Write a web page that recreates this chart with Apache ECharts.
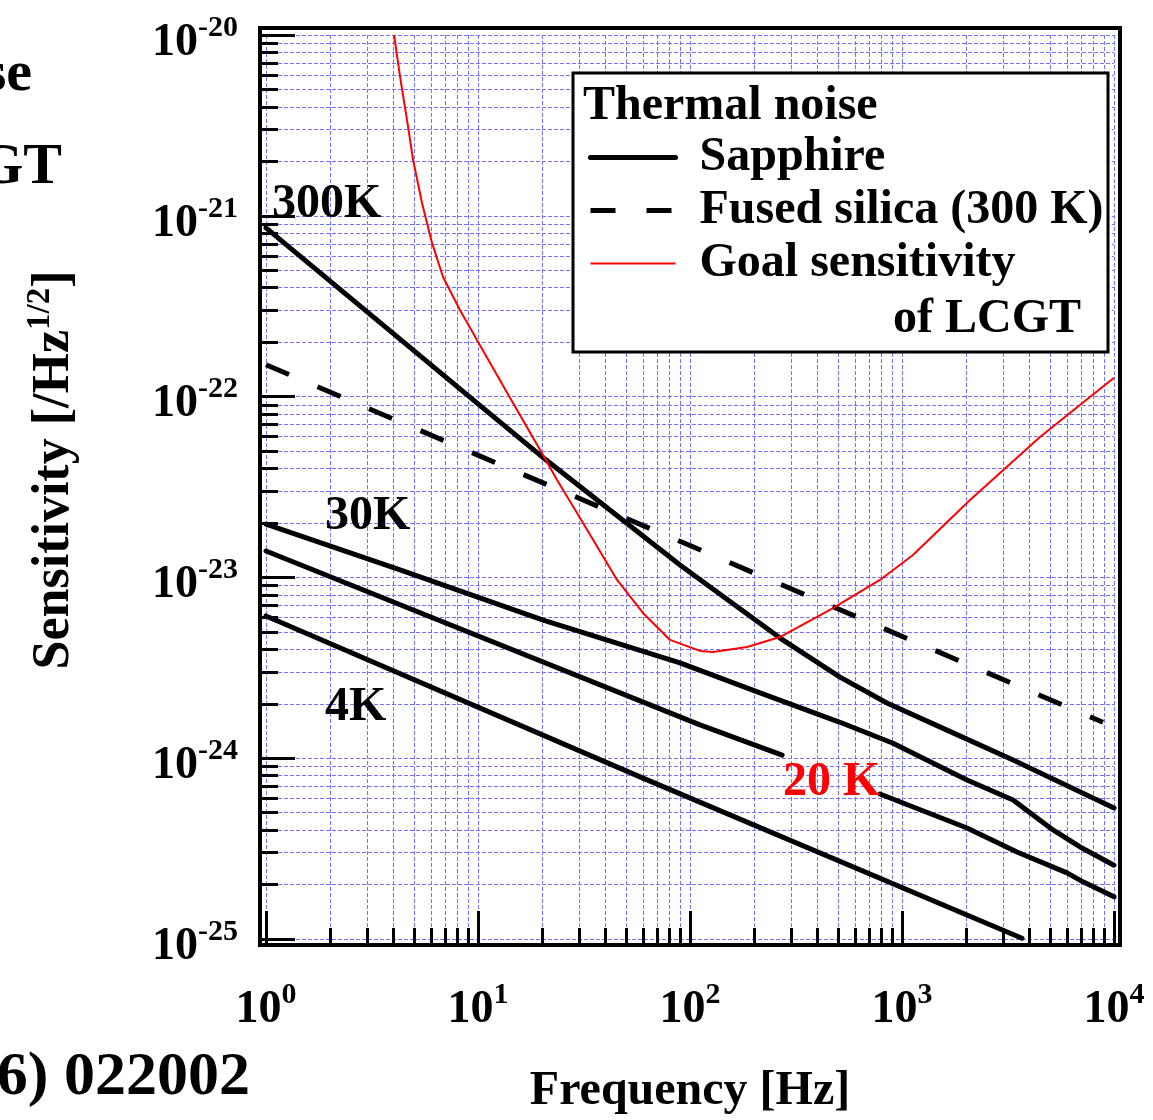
<!DOCTYPE html>
<html><head><meta charset="utf-8">
<script src="https://cdn.jsdelivr.net/npm/echarts@6/dist/echarts.min.js"></script>
<style>html,body{margin:0;padding:0;background:#fff}#c{width:1153px;height:1120px}</style>
</head><body><div id="c"></div>
<script>
// ---------- data (frequency [Hz], sensitivity [/Hz^1/2]) ----------
const sapphire300K = [[1,8.57e-22],[10,9.12e-23],[20.9,4.47e-23],[89.7,1.17e-23],[266,4.62e-24],[510,2.81e-24],[849,2.02e-24],[1630,1.43e-24],[3342,9.77e-25],[10000,5.31e-25]];
const sapphire30K = [[1,1.97e-23],[4.29,1.10e-23],[20.3,5.81e-24],[89.7,3.37e-24],[214,2.30e-24],[510,1.58e-24],[907,1.21e-24],[2026,7.57e-25],[3342,5.87e-25],[5155,4.01e-25],[6918,3.23e-25],[10000,2.56e-25]];
const sapphire20K = [[1,1.40e-23],[111.5,1.53e-24],[272,1.04e-24],[460,'-'],[787,6.34e-25],[2026,4.11e-25],[3486,3.03e-25],[6000,2.32e-25],[7141,2.07e-25],[10000,1.71e-25]];
const sapphire4K = [[1,6.12e-24],[60,7.76e-25],[3681,1.01e-25]];
const fusedSilica300K = [[1,1.50e-22],[100,1.50e-23],[8873,1.58e-24]];
const goalLCGT = [[4.02,1.0e-20],[4.29,5.86e-21],[4.68,3.10e-21],[4.94,2.04e-21],[5.44,1.18e-21],[6.07,7.08e-22],[6.84,4.59e-22],[8.22,3.01e-22],[10.2,1.93e-22],[14.2,9.8e-23],[20.9,4.46e-23],[23.6,3.46e-23],[31.3,2.00e-23],[45.3,9.68e-24],[60.0,6.36e-24],[80.5,4.51e-24],[111.5,3.92e-24],[128.4,3.87e-24],[185.8,4.12e-24],[265.8,4.68e-24],[472.6,6.77e-24],[787,9.68e-24],[1127,1.33e-23],[2093,2.68e-23],[4477,5.98e-23],[10000,1.27e-22]];

const xMajorTicks = [1,10,100,1000,10000];
const yMajorTicks = [1e-25,1e-24,1e-23,1e-22,1e-21,1e-20];
const minorMultipliers = [2,3,4,5,6,7,8,9];
const legendNames = ['Sapphire','Fused silica (300 K)','Goal sensitivity'];
const curveLabels = ['300K','30K','4K','20 K'];

// ---------- helpers ----------
const FONT = '"Liberation Serif","Times New Roman",serif';
function allTicks(majors){
  const out = majors.slice();
  for (let i=0;i<majors.length-1;i++) minorMultipliers.forEach(m=>out.push(m*majors[i]));
  return out.sort((a,b)=>a-b);
}
const xAllTicks = allTicks(xMajorTicks);
const yAllTicks = allTicks(yMajorTicks);
const rich = {
  b:{fontFamily:FONT,fontWeight:'bold',fontSize:46,color:'#000',lineHeight:60},
  s:{fontFamily:FONT,fontWeight:'bold',fontSize:30,color:'#000',lineHeight:20,verticalAlign:'top'}
};
const powLabel = v => '{b|10}{s|' + Math.round(Math.log10(v)) + '}';
const gridLine = {show:true,lineStyle:{color:'#7373ff',width:1,type:[4,2]}};

function blackLine(data){
  return {name:'Sapphire',type:'line',data:data,symbol:'none',smooth:false,connectNulls:false,
    lineStyle:{color:'#000',width:5,cap:'round',join:'round'},itemStyle:{color:'#000'},silent:true,z:2};
}

const chart = echarts.init(document.getElementById('c'), null, {renderer:'canvas'});
chart.setOption({
  animation:false,
  backgroundColor:'#fff',
  grid:{left:266,right:39,top:35,bottom:181,containLabel:false},
  xAxis:[
    {type:'log',logBase:10,min:1,max:10000,position:'bottom',offset:6,
     axisLine:{show:false,onZero:false},
     axisTick:{show:true,inside:true,length:17,customValues:xAllTicks,lineStyle:{color:'#000',width:3}},
     axisLabel:{show:false},splitLine:gridLine},
    {type:'log',logBase:10,min:1,max:10000,position:'bottom',offset:6,
     axisLine:{show:false,onZero:false},
     axisTick:{show:true,inside:true,length:34,customValues:xMajorTicks,lineStyle:{color:'#000',width:3}},
     axisLabel:{show:true,customValues:xMajorTicks,margin:35,formatter:powLabel,rich:rich},
     splitLine:{show:false}}
  ],
  yAxis:[
    {type:'log',logBase:10,min:1e-25,max:1e-20,position:'left',offset:6,
     axisLine:{show:false,onZero:false},
     axisTick:{show:true,inside:true,length:18,customValues:yAllTicks,lineStyle:{color:'#000',width:3}},
     axisLabel:{show:false},splitLine:gridLine},
    {type:'log',logBase:10,min:1e-25,max:1e-20,position:'left',offset:6,
     axisLine:{show:false,onZero:false},
     axisTick:{show:true,inside:true,length:35,customValues:yMajorTicks,lineStyle:{color:'#000',width:3}},
     axisLabel:{show:true,customValues:yMajorTicks,margin:22,padding:[16,0,0,0],formatter:powLabel,rich:rich},
     splitLine:{show:false}}
  ],
  legend:{
    orient:'vertical',left:588,top:131,padding:0,itemGap:0,itemWidth:85,itemHeight:10,
    selectedMode:false,data:legendNames,
    itemStyle:{color:'transparent',borderWidth:0},
    lineStyle:{width:'inherit'},
    textStyle:{fontFamily:FONT,fontWeight:'bold',fontSize:48,color:'#000',lineHeight:53,padding:[0,0,0,19]},
    z:6
  },
  series:[
    blackLine(sapphire300K),
    blackLine(sapphire30K),
    blackLine(sapphire20K),
    blackLine(sapphire4K),
    {name:'Fused silica (300 K)',type:'line',data:fusedSilica300K,symbol:'none',silent:true,z:2,
     lineStyle:{color:'#000',width:5,type:[25,31]},itemStyle:{color:'#000'}},
    {name:'Goal sensitivity',type:'line',data:goalLCGT,symbol:'none',smooth:false,silent:true,z:3,
     lineStyle:{color:'#ff0000',width:2,join:'round'},itemStyle:{color:'#ff0000'}}
  ],
  graphic:[
    {type:'rect',z:1,silent:true,shape:{x:260,y:28,width:860,height:917},style:{fill:'none',stroke:'#000',lineWidth:4}},
    {type:'rect',z:4,silent:true,shape:{x:573,y:73,width:535,height:279},style:{fill:'#fff',stroke:'#000',lineWidth:3}},
    {type:'text',z:7,x:583,y:107,style:{text:'Thermal noise',font:'bold 48px '+FONT,fill:'#000',align:'left',verticalAlign:'middle'}},
    {type:'text',z:7,x:893,y:320,style:{text:'of LCGT',font:'bold 48px '+FONT,fill:'#000',align:'left',verticalAlign:'middle'}},
    {type:'text',z:7,x:272,y:205,style:{text:curveLabels[0],font:'bold 48px '+FONT,fill:'#000',align:'left',verticalAlign:'middle'}},
    {type:'text',z:7,x:325,y:517,style:{text:curveLabels[1],font:'bold 48px '+FONT,fill:'#000',align:'left',verticalAlign:'middle'}},
    {type:'text',z:7,x:325,y:708,style:{text:curveLabels[2],font:'bold 48px '+FONT,fill:'#000',align:'left',verticalAlign:'middle'}},
    {type:'text',z:7,x:783,y:783,style:{text:curveLabels[3],font:'bold 48px '+FONT,fill:'#ff0000',align:'left',verticalAlign:'middle'}},
    {type:'text',z:7,x:690,y:1092,style:{text:'Frequency [Hz]',font:'bold 48px '+FONT,fill:'#000',align:'center',verticalAlign:'middle'}},
    {type:'text',z:7,x:55,y:470,rotation:Math.PI/2,style:{
      text:'{t|Sensitivity [/Hz}{u|1/2}{t|]}',align:'center',verticalAlign:'middle',
      rich:{t:{fontFamily:FONT,fontWeight:'bold',fontSize:52,fill:'#000',lineHeight:62},
            u:{fontFamily:FONT,fontWeight:'bold',fontSize:33,fill:'#000',lineHeight:22,verticalAlign:'top'}}}},
    {type:'text',z:7,x:32,y:75,style:{text:'noise',font:'bold 58px '+FONT,fill:'#000',align:'right',verticalAlign:'middle'}},
    {type:'text',z:7,x:62,y:168,style:{text:'LCGT',font:'bold 58px '+FONT,fill:'#000',align:'right',verticalAlign:'middle'}},
    {type:'text',z:7,x:250,y:1078,style:{text:'(2006) 022002',font:'bold 62px '+FONT,fill:'#000',align:'right',verticalAlign:'middle'}}
  ]
});
</script></body></html>
